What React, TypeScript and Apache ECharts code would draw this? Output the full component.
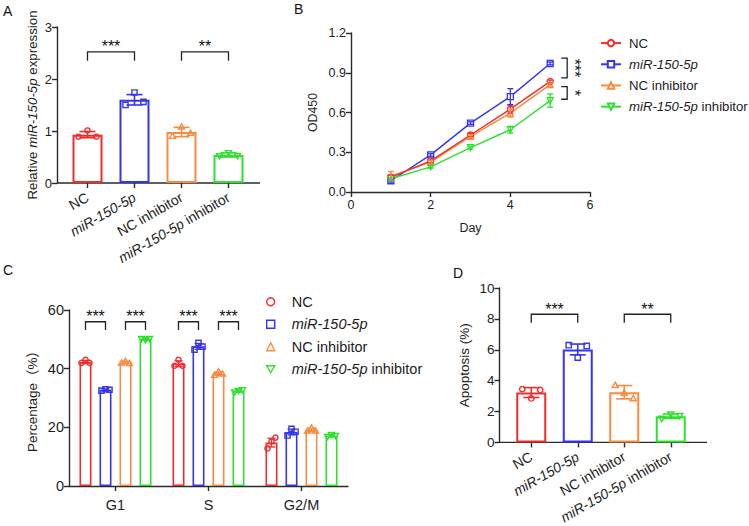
import React, { useEffect, useRef } from 'react';
import * as echarts from 'echarts';

// ---------- data ----------
const groups = ['NC', 'miR-150-5p', 'NC inhibitor', 'miR-150-5p inhibitor'];
const groupColors = ['#f22b2b', '#3535ee', '#f88b40', '#2ee02e'];

// A: relative expression
const exprMean = [0.93, 1.6, 0.98, 0.54];
const exprSd = [0.06, 0.1, 0.09, 0.04];
const exprPoints = [
  [0.89, 1.01, 0.89],
  [1.5, 1.74, 1.56],
  [0.9, 1.08, 0.96],
  [0.52, 0.58, 0.52],
];

// B: CCK-8 growth curves
const days = [1, 2, 3, 4, 5];
const odMean = [
  [0.11, 0.235, 0.43, 0.625, 0.835],
  [0.085, 0.28, 0.52, 0.72, 0.97],
  [0.12, 0.225, 0.42, 0.595, 0.81],
  [0.1, 0.19, 0.335, 0.47, 0.69],
];
const odSd = [
  [0.02, 0.015, 0.012, 0.03, 0.01],
  [0.01, 0.01, 0.01, 0.06, 0.01],
  [0.035, 0.012, 0.01, 0.03, 0.012],
  [0.01, 0.01, 0.01, 0.025, 0.05],
];

// C: cell-cycle distribution
const phases = ['G1', 'S', 'G2/M'];
const cycleMean = [
  [42.3, 41.7, 14.8],
  [32.8, 47.6, 18.4],
  [42.1, 38.3, 19.1],
  [50.1, 32.4, 17.2],
];
const cycleSd = [
  [0.5, 1.0, 1.5],
  [0.3, 1.0, 1.0],
  [0.4, 0.6, 0.6],
  [0.3, 0.4, 0.4],
];
const cyclePoints = [
  [[42.0, 43.0, 42.0], [41.0, 43.0, 41.0], [12.8, 15.2, 16.5]],
  [[32.5, 33.0, 32.8], [46.5, 48.8, 47.5], [17.2, 19.5, 18.5]],
  [[42.0, 42.5, 41.8], [37.8, 39.0, 38.2], [18.8, 19.8, 18.8]],
  [[50.2, 49.8, 50.2], [32.0, 32.5, 32.8], [16.8, 17.5, 17.2]],
];

// D: apoptosis
const apopMean = [3.23, 6.02, 3.25, 1.7];
const apopSd = [0.32, 0.35, 0.43, 0.14];
const apopPoints = [
  [3.45, 2.85, 3.4],
  [6.3, 5.5, 6.25],
  [3.7, 3.2, 2.85],
  [1.55, 1.82, 1.72],
];

// significance annotations
const sigA = [
  { from: 0, to: 1, label: '***' },
  { from: 2, to: 3, label: '**' },
];
const sigC = [
  { phase: 0, from: 0, to: 1, label: '***' },
  { phase: 0, from: 2, to: 3, label: '***' },
  { phase: 1, from: 0, to: 1, label: '***' },
  { phase: 1, from: 2, to: 3, label: '***' },
];
const sigD = [
  { from: 0, to: 1, label: '***' },
  { from: 2, to: 3, label: '**' },
];
const sigB = [
  { top: 1.01, bottom: 0.862, label: '***' },
  { top: 0.795, bottom: 0.7, label: '*' },
];

// ---------- layout / style ----------
const FONT = '"Liberation Sans", Arial, "Noto Sans CJK SC", sans-serif';
const INK = '#1c1c1c';
const AXIS = '#2a2a2a';

const LA = { left: 64, top: 27, width: 188, height: 156, axisX: 57, lineEnd: 260 };
const LB = { left: 351, top: 33, width: 239, height: 159 };
const LC = { left: 69, top: 310, width: 279, height: 176 };
const LD = { left: 508, top: 288, width: 186, height: 156.5, axisX: 499.5, lineEnd: 707 };

const C_BAR_STEP = 20; // px between bar centres within a phase
const cBarOffset = (s: number) => (s - 1.5) * C_BAR_STEP;

const wideJitter = [-9, 0, 9];
const narrowJitter = [-4, 0, 4];

const italicName = (s: string) =>
  s.startsWith('miR-150-5p') ? '{i|miR-150-5p}' + s.slice(10) : s;

const downTriPath = 'path://M0,0L10,0L5,8.66Z';

function markerEl(kind: number, cx: number, cy: number, r: number, color: string) {
  const style = { fill: 'none', stroke: color, lineWidth: 1.4 };
  if (kind === 0) return { type: 'circle', shape: { cx, cy, r }, style };
  if (kind === 1)
    return { type: 'rect', shape: { x: cx - r, y: cy - r, width: 2 * r, height: 2 * r }, style };
  if (kind === 2)
    return {
      type: 'polygon',
      shape: { points: [[cx, cy - r * 1.15], [cx + r * 1.15, cy + r * 0.85], [cx - r * 1.15, cy + r * 0.85]] },
      style,
    };
  return {
    type: 'polygon',
    shape: { points: [[cx, cy + r * 1.15], [cx + r * 1.15, cy - r * 0.85], [cx - r * 1.15, cy - r * 0.85]] },
    style,
  };
}

// replicate dots: rows are [x, replicate, value, groupIndex, barOffsetPx]
function dotSeries(axis: number, data: number[][], jitter: number[], r: number) {
  return {
    type: 'custom',
    xAxisIndex: axis,
    yAxisIndex: axis,
    z: 6,
    silent: true,
    encode: { x: 0, y: 2 },
    data,
    renderItem: (_p: any, api: any) => {
      const pt = api.coord([api.value(0), api.value(2)]);
      const k = api.value(1);
      const g = api.value(3);
      const off = api.value(4);
      return markerEl(g, pt[0] + off + jitter[k], pt[1], r, groupColors[g]);
    },
  };
}

// mean ± SD error bars: rows are [x, mean, sd, groupIndex, barOffsetPx]
function errSeries(axis: number, data: number[][], cap: number, width: number) {
  return {
    type: 'custom',
    xAxisIndex: axis,
    yAxisIndex: axis,
    z: 5,
    silent: true,
    encode: { x: 0, y: 1 },
    data,
    renderItem: (_p: any, api: any) => {
      const x = api.value(0);
      const m = api.value(1);
      const s = api.value(2);
      const g = api.value(3);
      const off = api.value(4);
      const hi = api.coord([x, m + s]);
      const lo = api.coord([x, m - s]);
      const cx = hi[0] + off;
      const style = { stroke: groupColors[g], lineWidth: width };
      return {
        type: 'group',
        children: [
          { type: 'line', shape: { x1: cx, y1: hi[1], x2: cx, y2: lo[1] }, style },
          { type: 'line', shape: { x1: cx - cap, y1: hi[1], x2: cx + cap, y2: hi[1] }, style },
          { type: 'line', shape: { x1: cx - cap, y1: lo[1], x2: cx + cap, y2: lo[1] }, style },
        ],
      };
    },
  };
}

const axisLineStyle = { color: AXIS, width: 1.4 };
const tick = { show: true, length: 5, lineStyle: axisLineStyle };

function valueAxis(
  grid: number,
  min: number,
  max: number,
  interval: number,
  name: string,
  nameGap: number,
  fontSize: number,
  nameSize: number,
  extra: any = {}
) {
  return {
    gridIndex: grid,
    type: 'value',
    min,
    max,
    interval,
    axisLine: { show: true, lineStyle: axisLineStyle },
    axisTick: tick,
    splitLine: { show: false },
    axisLabel: { fontSize, color: INK, margin: 5, fontFamily: FONT },
    name,
    nameLocation: 'middle',
    nameGap,
    nameTextStyle: {
      fontSize: nameSize,
      color: INK,
      fontFamily: FONT,
      rich: { i: { fontStyle: 'italic', fontSize: nameSize, color: INK, fontFamily: FONT } },
    },
    ...extra,
  };
}

function groupAxis(grid: number) {
  return {
    gridIndex: grid,
    type: 'category',
    data: groups,
    axisLine: { show: false },
    axisTick: { show: true, alignWithLabel: true, length: 5, lineStyle: axisLineStyle },
    axisLabel: {
      rotate: 30,
      fontSize: 14,
      color: INK,
      margin: 13,
      fontFamily: FONT,
      interval: 0,
      formatter: italicName,
      rich: { i: { fontStyle: 'italic', fontSize: 14, color: INK, fontFamily: FONT } },
    },
  };
}

function buildOption() {
  const series: any[] = [];

  // B: growth curves (first, so legend B inherits line icons)
  const lineSymbols = ['circle', 'rect', 'triangle', downTriPath];
  groups.forEach((g, i) => {
    series.push({
      type: 'line',
      name: g,
      xAxisIndex: 1,
      yAxisIndex: 1,
      data: days.map((d, j) => [d, odMean[i][j]]),
      symbol: lineSymbols[i],
      symbolSize: 6,
      lineStyle: { color: groupColors[i], width: 1.4 },
      itemStyle: { color: '#fff', borderColor: groupColors[i], borderWidth: 1.3 },
      z: 4 + (i === 0 ? 0.5 : 0),
      silent: true,
    });
  });
  series.push(
    errSeries(
      1,
      groups.flatMap((_, i) => days.map((d, j) => [d, odMean[i][j], odSd[i][j], i, 0])),
      3,
      1.3
    )
  );

  // A: expression bars
  series.push({
    type: 'bar',
    name: 'expr',
    xAxisIndex: 0,
    yAxisIndex: 0,
    barWidth: 30,
    silent: true,
    data: exprMean.map((v, i) => ({
      value: v,
      itemStyle: { color: '#fff', borderColor: groupColors[i], borderWidth: 2 },
    })),
  });
  series.push(errSeries(0, exprMean.map((m, i) => [i, m, exprSd[i], i, 0]), 8, 1.6));
  series.push(dotSeries(0, exprPoints.flatMap((pts, i) => pts.map((v, k) => [i, k, v, i, 0])), wideJitter, 2.6));

  // C: cell-cycle bars
  groups.forEach((g, s) => {
    series.push({
      type: 'bar',
      name: 'cycle-' + g,
      xAxisIndex: 2,
      yAxisIndex: 2,
      barWidth: 12,
      barGap: '66.7%',
      silent: true,
      data: cycleMean[s],
      itemStyle: { color: '#fff', borderColor: groupColors[s], borderWidth: 1.6 },
    });
  });
  series.push(
    errSeries(
      2,
      groups.flatMap((_, s) => phases.map((_p, j) => [j, cycleMean[s][j], cycleSd[s][j], s, cBarOffset(s)])),
      4,
      1.3
    )
  );
  series.push(
    dotSeries(
      2,
      groups.flatMap((_, s) =>
        phases.flatMap((_p, j) => cyclePoints[s][j].map((v, k) => [j, k, v, s, cBarOffset(s)]))
      ),
      narrowJitter,
      2.6
    )
  );

  // D: apoptosis bars
  series.push({
    type: 'bar',
    name: 'apop',
    xAxisIndex: 3,
    yAxisIndex: 3,
    barWidth: 30,
    silent: true,
    data: apopMean.map((v, i) => ({
      value: v,
      itemStyle: { color: '#fff', borderColor: groupColors[i], borderWidth: 2 },
    })),
  });
  series.push(errSeries(3, apopMean.map((m, i) => [i, m, apopSd[i], i, 0]), 8, 1.6));
  series.push(dotSeries(3, apopPoints.flatMap((pts, i) => pts.map((v, k) => [i, k, v, i, 0])), wideJitter, 2.7));

  const legendText = (fontSize: number, padLeft: number) => ({
    fontSize,
    color: INK,
    fontFamily: FONT,
    padding: [0, 0, 0, padLeft],
    rich: { i: { fontStyle: 'italic', fontSize, color: INK, fontFamily: FONT } },
  });

  const legendIcons = ['circle', 'rect', 'triangle', downTriPath];

  return {
    animation: false,
    textStyle: { fontFamily: FONT },
    grid: [
      { left: LA.left, top: LA.top, width: LA.width, height: LA.height },
      { left: LB.left, top: LB.top, width: LB.width, height: LB.height },
      { left: LC.left, top: LC.top, width: LC.width, height: LC.height },
      { left: LD.left, top: LD.top, width: LD.width, height: LD.height },
    ],
    xAxis: [
      groupAxis(0),
      valueAxis(1, 0, 6, 2, 'Day', 30, 12.5, 12.5, {
        axisLabel: { fontSize: 12.5, color: INK, margin: 7, fontFamily: FONT },
      }),
      {
        gridIndex: 2,
        type: 'category',
        data: phases,
        axisLine: { show: true, lineStyle: axisLineStyle },
        axisTick: { show: true, alignWithLabel: true, length: 5, lineStyle: axisLineStyle },
        axisLabel: { fontSize: 14.5, color: INK, margin: 12, fontFamily: FONT },
      },
      groupAxis(3),
    ],
    yAxis: [
      valueAxis(0, 0, 3, 1, 'Relative {i|miR-150-5p} expression', 18, 13, 13.3, { offset: LA.left - LA.axisX }),
      valueAxis(1, 0, 1.2, 0.3, 'OD450', 32, 12.5, 12.3, {
        axisLabel: { fontSize: 12.5, color: INK, margin: 5, fontFamily: FONT, formatter: (v: number) => v.toFixed(1) },
      }),
      valueAxis(2, 0, 60, 20, 'Percentage（%）', 30, 14.5, 13.5),
      valueAxis(3, 0, 10, 2, 'Apoptosis (%)', 28, 13.5, 13.5, { offset: LD.left - LD.axisX }),
    ],
    legend: [
      {
        orient: 'vertical',
        left: 600,
        top: 36.5,
        padding: 0,
        itemWidth: 20,
        itemHeight: 8,
        itemGap: 8,
        selectedMode: false,
        data: groups,
        formatter: italicName,
        textStyle: legendText(13.2, 3),
      },
      {
        orient: 'vertical',
        left: 266,
        top: 294.5,
        padding: 0,
        itemWidth: 8,
        itemHeight: 8,
        itemGap: 8,
        selectedMode: false,
        formatter: italicName,
        textStyle: legendText(14.5, 12),
        data: groups.map((g, i) => ({
          name: g,
          icon: legendIcons[i],
          itemStyle: { color: '#fff', borderColor: groupColors[i], borderWidth: 1.4 },
        })),
      },
    ],
    series,
  };
}

function annotations(chart: echarts.ECharts) {
  const px = (grid: number, x: number, y: number) =>
    chart.convertToPixel({ gridIndex: grid } as any, [x, y]) as number[];
  const line = { stroke: '#222', lineWidth: 1.3, fill: 'none' };
  const stars = (text: string, x: number, y: number, rotation = 0) => ({
    type: 'text',
    x,
    y,
    rotation,
    style: {
      text,
      fontSize: 16,
      fontFamily: FONT,
      fill: '#111',
      align: 'center',
      verticalAlign: 'middle',
    },
  });
  const els: any[] = [];

  const letter = (t: string, x: number, y: number) =>
    els.push({
      type: 'text',
      x,
      y,
      style: { text: t, fontSize: 14, fontFamily: FONT, fill: '#111', verticalAlign: 'middle' },
    });
  letter('A', 3, 11);
  letter('B', 294, 9);
  letter('C', 3, 270);
  letter('D', 453, 273);

  // extended x axis baselines for A and D
  const a0 = px(0, 0, 0);
  els.push({ type: 'line', shape: { x1: LA.axisX, y1: a0[1], x2: LA.lineEnd, y2: a0[1] }, style: { stroke: AXIS, lineWidth: 1.4 } });
  const d0 = px(3, 0, 0);
  els.push({ type: 'line', shape: { x1: LD.axisX, y1: d0[1], x2: LD.lineEnd, y2: d0[1] }, style: { stroke: AXIS, lineWidth: 1.4 } });

  const bracket = (x1: number, x2: number, yTop: number, yLeg: number, label: string) => {
    els.push({
      type: 'polyline',
      shape: { points: [[x1, yLeg], [x1, yTop], [x2, yTop], [x2, yLeg]] },
      style: line,
    });
    els.push(stars(label, (x1 + x2) / 2, yTop - 5));
  };

  sigA.forEach((s) => {
    const p1 = px(0, s.from, 2.52);
    const p2 = px(0, s.to, 2.52);
    const leg = px(0, s.from, 2.35)[1];
    bracket(p1[0], p2[0], p1[1], leg, s.label);
  });
  sigD.forEach((s) => {
    const p1 = px(3, s.from, 8.3);
    const p2 = px(3, s.to, 8.3);
    const leg = px(3, s.from, 7.75)[1];
    bracket(p1[0], p2[0], p1[1], leg, s.label);
  });
  sigC.forEach((s) => {
    const c = px(2, s.phase, 56);
    const leg = px(2, s.phase, 53.2)[1];
    bracket(c[0] + cBarOffset(s.from), c[0] + cBarOffset(s.to), c[1], leg, s.label);
  });
  sigB.forEach((s) => {
    const t = px(1, days[days.length - 1], s.top);
    const b = px(1, days[days.length - 1], s.bottom);
    const x1 = t[0] + 11;
    const x2 = t[0] + 17;
    els.push({
      type: 'polyline',
      shape: { points: [[x1, t[1]], [x2, t[1]], [x2, b[1]], [x1, b[1]]] },
      style: line,
    });
    els.push(stars(s.label, x2 + 7, (t[1] + b[1]) / 2, -Math.PI / 2));
  });

  return els;
}

export default function App() {
  const ref = useRef<HTMLDivElement>(null);
  useEffect(() => {
    document.body.style.margin = '0';
    if (!ref.current) return;
    const chart = echarts.init(ref.current, null, { renderer: 'svg' });
    chart.setOption(buildOption() as any);
    chart.setOption({ graphic: annotations(chart) } as any);
    return () => chart.dispose();
  }, []);
  return <div ref={ref} style={{ width: 749, height: 526, background: '#fff' }} />;
}
